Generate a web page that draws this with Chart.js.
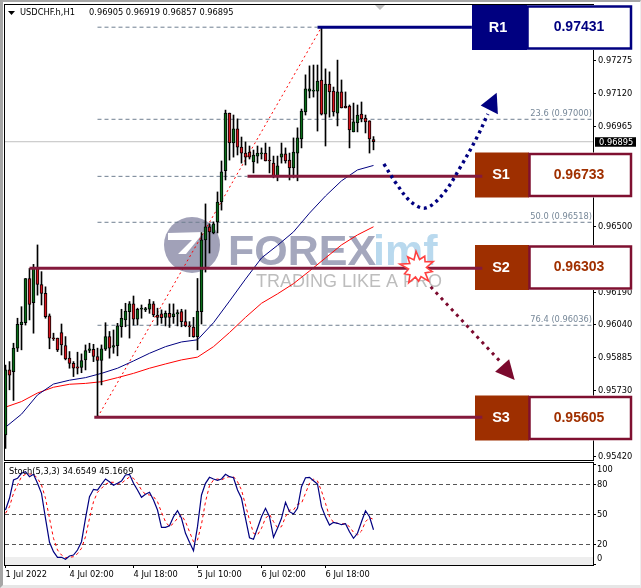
<!DOCTYPE html>
<html>
<head>
<meta charset="utf-8">
<title>USDCHF.h,H1</title>
<script src="https://cdn.jsdelivr.net/npm/chart.js@4"></script>
<style>
  html, body { margin: 0; padding: 0; background: #fff; }
  #wrap { position: relative; width: 641px; height: 588px; overflow: hidden; }
  canvas { position: absolute; left: 0; }
  #frame { position: absolute; left: 0; top: 0; width: 641px; height: 588px; box-sizing: border-box;
    border-top: 2px solid #a6a6a6; border-left: 3px solid #a6a6a6; border-bottom: 3px solid #e6e6e6; border-right: 1px solid #eee; }
</style>
</head>
<body>
<div id="wrap">
  <canvas id="mainChart" width="641" height="462" style="top:0"></canvas>
  <canvas id="stochChart" width="641" height="126" style="top:462px"></canvas>
  <div id="frame"></div>
</div>
<script>
// candles
const opens = [0.95523,0.95827,0.95819,0.95929,0.96039,0.96048,0.96255,0.96142,0.96306,0.96227,0.96185,0.96080,0.95976,0.95976,0.96002,0.95941,0.95882,0.95858,0.95841,0.95839,0.95874,0.95918,0.95924,0.95890,0.95871,0.95924,0.95983,0.95933,0.95941,0.96029,0.96061,0.96100,0.96136,0.96064,0.96111,0.96108,0.96111,0.96136,0.96084,0.96089,0.96073,0.96092,0.96076,0.96089,0.96100,0.96053,0.96033,0.96028,0.95983,0.96100,0.96436,0.96497,0.96468,0.96520,0.96613,0.96759,0.97029,0.96889,0.96955,0.96870,0.96842,0.96847,0.96800,0.96828,0.96838,0.96842,0.96809,0.96795,0.96730,0.96823,0.96838,0.96809,0.96773,0.96842,0.96908,0.97034,0.97132,0.97132,0.97132,0.97184,0.97024,0.97165,0.97132,0.97029,0.97128,0.97062,0.97062,0.96941,0.96983,0.97024,0.97006,0.96993,0.96905];
const closes = [0.95827,0.95803,0.95929,0.96040,0.96051,0.96255,0.96134,0.96306,0.96227,0.96185,0.96076,0.95976,0.95973,0.95921,0.95944,0.95879,0.95858,0.95835,0.95835,0.95871,0.95918,0.95926,0.95890,0.95871,0.95926,0.95983,0.95929,0.95941,0.96033,0.96069,0.96103,0.96136,0.96064,0.96111,0.96116,0.96114,0.96136,0.96084,0.96073,0.96072,0.96092,0.96073,0.96089,0.96095,0.96053,0.96033,0.96028,0.95983,0.96103,0.96436,0.96497,0.96473,0.96511,0.96613,0.96754,0.97029,0.96889,0.96955,0.96870,0.96842,0.96823,0.96823,0.96833,0.96842,0.96842,0.96805,0.96805,0.96730,0.96782,0.96838,0.96805,0.96773,0.96847,0.96913,0.97038,0.97142,0.97142,0.97137,0.97179,0.97024,0.97165,0.97128,0.97034,0.97128,0.97053,0.97053,0.96950,0.96988,0.97020,0.97002,0.96988,0.96908,0.96895];
const highs = [0.95850,0.95866,0.95952,0.96069,0.96123,0.96255,0.96302,0.96321,0.96412,0.96287,0.96216,0.96089,0.95999,0.95976,0.96042,0.95983,0.95913,0.95866,0.95910,0.95902,0.95944,0.95952,0.95947,0.95929,0.95944,0.96048,0.96007,0.96014,0.96045,0.96111,0.96139,0.96147,0.96173,0.96116,0.96131,0.96120,0.96157,0.96147,0.96116,0.96108,0.96103,0.96136,0.96136,0.96108,0.96111,0.96108,0.96053,0.96073,0.96255,0.96470,0.96604,0.96511,0.96520,0.96660,0.96805,0.97043,0.97029,0.97020,0.97002,0.96917,0.96894,0.96875,0.96856,0.96875,0.96866,0.96889,0.96870,0.96828,0.96828,0.96889,0.96866,0.96842,0.96913,0.96960,0.97048,0.97208,0.97250,0.97254,0.97254,0.97431,0.97236,0.97222,0.97151,0.97277,0.97184,0.97128,0.97067,0.97076,0.97067,0.97081,0.97020,0.96993,0.96919];
const lows = [0.95460,0.95734,0.95684,0.95913,0.95921,0.96037,0.96061,0.95999,0.96177,0.96131,0.96069,0.95926,0.95965,0.95913,0.95897,0.95874,0.95835,0.95796,0.95808,0.95814,0.95827,0.95908,0.95866,0.95605,0.95757,0.95918,0.95882,0.95905,0.95893,0.95980,0.96029,0.95976,0.96037,0.96037,0.96069,0.96100,0.96092,0.96076,0.96037,0.96045,0.96033,0.96026,0.96045,0.96033,0.96029,0.96029,0.95983,0.95980,0.95921,0.96042,0.96285,0.96374,0.96464,0.96468,0.96575,0.96716,0.96809,0.96823,0.96833,0.96795,0.96786,0.96814,0.96749,0.96795,0.96814,0.96805,0.96749,0.96726,0.96712,0.96795,0.96795,0.96716,0.96726,0.96712,0.96866,0.97020,0.97100,0.97104,0.96945,0.97020,0.96875,0.97010,0.97015,0.96969,0.97053,0.97053,0.96866,0.96941,0.96941,0.96988,0.96936,0.96842,0.96857];

// moving averages, read every fourth bar
const maBars = [0,4,8,12,16,20,24,28,32,36,40,44,48,52,56,60,64,68,72,76,80,84,88,92];
const maBlue = [0.95559,0.95620,0.95710,0.95761,0.95779,0.95791,0.95811,0.95835,0.95869,0.95905,0.95936,0.95958,0.95968,0.96048,0.96149,0.96252,0.96351,0.96410,0.96473,0.96561,0.96641,0.96712,0.96763,0.96784];
const maRed = [0.95653,0.95679,0.95719,0.95746,0.95760,0.95764,0.95772,0.95791,0.95811,0.95835,0.95855,0.95874,0.95887,0.95936,0.96002,0.96073,0.96139,0.96183,0.96231,0.96290,0.96351,0.96412,0.96459,0.96497];

// stochastic
const stochMain = [54.5,66.2,84.5,86.2,91.2,92.8,87.8,90.2,81.2,71.2,46.2,22.2,12.8,7.2,7.2,5.2,8.5,9.5,14.5,22.8,46.2,67.8,75.2,74.5,80.2,85.5,82.8,79.2,81.2,83.5,89.5,90.2,81.2,74.5,67.2,70.2,72.2,64.5,54.5,37.2,37.2,38.8,47.8,53.8,46.2,31.2,22.2,13.8,37.8,69.5,81.2,87.2,85.5,84.2,85.5,90.2,87.8,86.8,74.5,66.2,46.2,26.8,25.2,36.2,47.8,56.2,47.8,27.2,36.2,46.2,62.2,52.8,50.5,56.2,77.8,86.8,87.2,83.8,80.5,57.8,47.8,39.5,42.2,41.2,39.8,40.8,32.8,26.2,31.2,42.8,53.8,47.8,34.7];
const stochSignal = [51.2,57.8,71.2,79.5,87.8,90.2,90.5,90.2,86.2,79.5,66.2,46.2,26.2,14.5,9.5,6.8,7.2,7.8,10.8,16.2,27.8,46.2,62.8,72.2,76.2,80.2,82.2,82.2,80.5,81.2,84.5,87.5,86.2,81.2,74.5,70.2,69.5,67.8,62.8,52.2,42.8,37.8,41.2,46.2,49.5,42.8,32.8,22.8,24.5,40.2,62.8,78.8,84.5,85.5,84.5,86.8,87.8,87.8,82.8,74.5,59.5,44.5,31.2,29.5,36.2,46.2,50.2,42.8,36.8,37.8,47.8,54.5,54.5,60.2,61.2,71.2,81.2,85.5,83.5,73.5,61.2,47.8,42.2,41.2,40.5,40.8,37.8,32.2,29.5,33.5,42.8,46.8,45.2];

// axis labels
const priceTicks = [0.97430,0.97275,0.97120,0.96965,0.96810,0.96655,0.96500,0.96345,0.96190,0.96040,0.95885,0.95730,0.95575,0.95420];
const stochTicks = [100,80,50,20,0];
const timeBars = [0,16,32,48,64,80];
const timeLabels = ["1 Jul 2022","4 Jul 02:00","4 Jul 18:00","5 Jul 10:00","6 Jul 02:00","6 Jul 18:00"];

// levels and drawn objects
const lastPrice = 0.96895;
const boxNames = ["R1","S1","S2","S3"];
const boxValues = ["0.97431","0.96733","0.96303","0.95605"];
const levelPrices = [0.97431,0.96733,0.96303,0.95605];
const levelStart = [78,60.5,6,22.2];
const levelEnd = [116.6,119.2,119.2,119.2];
const fibPrices = [0.97431,0.97000,0.96733,0.96518,0.96036];
const fibEnd = [78,147,60.5,147,147];
const fibNames = ["","23.6 (0.97000)","","50.0 (0.96518)","76.4 (0.96036)"];
const blueCurveBars = [94.6,97.6,101.4,105.1,109.6,113.9,117.9,120.6];
const blueCurve = [0.96791,0.96702,0.96613,0.96585,0.96655,0.96782,0.96917,0.97025];
const dropBars = [106.3,124.1];
const dropLine = [0.96216,0.95858];

const barCount = 147;
const font = '"DejaVu Sans Condensed", "Liberation Sans", sans-serif';
const boldFont = '"Liberation Sans", Arial, sans-serif';
const smallFont = "9.2px " + font;
const tickFont = { family: font, size: 9.2 };
const xAxisMin = -0.125;

function line(xs, ys, color, width, extra) {
  return Object.assign({
    type: "line",
    data: xs.map((x, i) => ({ x, y: ys[i] })),
    borderColor: color,
    borderWidth: width,
    pointRadius: 0,
    order: 5,
  }, extra || {});
}

// chart.js reserves half a label at the ends of an axis, not wanted here
function fitY(s) {
  s.width = 48;
  s.paddingTop = 0;
  s.paddingBottom = 0;
}

const watermark = {
  draw(ctx) {
    ctx.save();
    ctx.fillStyle = "#a1a1b8";
    ctx.beginPath();
    ctx.arc(192, 245, 28, 0, Math.PI * 2);
    ctx.fill();
    // white cut through the logo
    ctx.fillStyle = "#fff";
    ctx.beginPath();
    ctx.moveTo(168, 233);
    ctx.lineTo(204, 232);
    ctx.lineTo(186, 254);
    ctx.lineTo(178, 254);
    ctx.lineTo(192, 240);
    ctx.lineTo(168, 240);
    ctx.closePath();
    ctx.fill();
    ctx.textBaseline = "alphabetic";
    ctx.textAlign = "left";
    ctx.font = "bold 43px " + boldFont;
    ctx.fillStyle = "#a4a7bd";
    ctx.fillText("FOREX", 228, 265);
    ctx.fillStyle = "#b9d9ee";
    ctx.fillText("imf", 373, 265);
    ctx.font = "18px " + boldFont;
    ctx.fillStyle = "#bdbdbd";
    ctx.fillText("TRADING LIKE A PRO", 256, 287);
    ctx.restore();
  },
};

function drawBox(ctx, i, top) {
  const navy = i === 0;
  const fill = navy ? "#000080" : "#9e2f00";
  const edge = navy ? "#000080" : "#7f1030";
  const left = navy ? 472 : 475;
  const split = navy ? 527 : 529;
  const h = 45;
  ctx.fillStyle = fill;
  ctx.fillRect(left, top, split - left, h);
  ctx.fillStyle = "#fff";
  ctx.fillRect(split, top, 632 - split, h);
  ctx.strokeStyle = edge;
  ctx.lineWidth = 2.5;
  ctx.strokeRect(split + 0.5, top + 1.5, 630.5 - split, h - 3);
  ctx.textAlign = "center";
  ctx.textBaseline = "middle";
  ctx.font = "bold 14.5px " + boldFont;
  ctx.fillStyle = "#fff";
  ctx.fillText(boxNames[i], navy ? 498 : 501, top + 22.5);
  ctx.font = "bold 14px " + boldFont;
  ctx.fillStyle = navy ? "#000080" : "#a03000";
  ctx.fillText(boxValues[i], 579, top + 22.5);
}

const mainOverlay = {
  id: "mainOverlay",
  beforeDatasetsDraw(chart) {
    const { ctx, chartArea: a, scales } = chart;
    watermark.draw(ctx);
    ctx.save();
    ctx.strokeStyle = "#000";
    ctx.lineWidth = 1;
    ctx.strokeRect(a.left - 0.5, a.top - 0.5, a.right - a.left + 1, a.bottom - a.top + 1);

    // drop-down mark near the title and the chart shift mark
    ctx.fillStyle = "#000";
    ctx.beginPath();
    ctx.moveTo(8, 11);
    ctx.lineTo(15, 11);
    ctx.lineTo(11.5, 15);
    ctx.fill();
    ctx.fillStyle = "#c0c0c0";
    ctx.beginPath();
    ctx.moveTo(375, 5);
    ctx.lineTo(385, 5);
    ctx.lineTo(380, 10);
    ctx.fill();

    ctx.font = smallFont;
    ctx.textBaseline = "middle";
    ctx.textAlign = "left";
    ctx.fillStyle = "#000";
    ctx.fillText("USDCHF.h,H1", 20, 12.5);
    ctx.fillText("0.96905 0.96919 0.96857 0.96895", 89, 12.5);

    ctx.textAlign = "right";
    ctx.fillStyle = "#778899";
    fibNames.forEach((name, i) => {
      if (name) ctx.fillText(name, 592, scales.y.getPixelForValue(fibPrices[i]) - 6);
    });

    drawBox(ctx, 0, 5);
    drawBox(ctx, 1, 152.5);
    drawBox(ctx, 2, 245);
    drawBox(ctx, 3, 395.5);

    // last price tag
    const py = scales.y.getPixelForValue(lastPrice);
    ctx.fillStyle = "#000";
    ctx.fillRect(595, py - 4.5, 41, 9.5);
    ctx.fillStyle = "#fff";
    ctx.font = smallFont;
    ctx.textAlign = "left";
    ctx.fillText(lastPrice.toFixed(5), 599, py + 0.5);
    ctx.restore();
  },
  afterDatasetsDraw(chart) {
    const { ctx, scales } = chart;
    const px = (bar, price) => [scales.x.getPixelForValue(bar), scales.y.getPixelForValue(price)];
    const tri = (pts, color) => {
      ctx.fillStyle = color;
      ctx.beginPath();
      pts.forEach((p, i) => {
        const q = px(p[0], p[1]);
        if (i) ctx.lineTo(q[0], q[1]);
        else ctx.moveTo(q[0], q[1]);
      });
      ctx.closePath();
      ctx.fill();
    };
    ctx.save();
    tri([[122.8, 0.97124], [118.8, 0.97065], [123.1, 0.97024]], "#000080");
    tri([[125.9, 0.95877], [122.4, 0.95819], [127.3, 0.95780]], "#7b0a2e");

    // star mark on the S2 line
    const radii = [17, 9, 15, 9, 17, 9, 13, 9, 17, 10, 14, 9, 18, 9, 15, 9, 17, 9, 14, 10];
    const c = px(103, 0.96303);
    ctx.beginPath();
    radii.forEach((r, i) => {
      const t = (i / radii.length) * Math.PI * 2 - 0.4;
      const x = c[0] + Math.cos(t) * r, y = c[1] + Math.sin(t) * r;
      if (i) ctx.lineTo(x, y);
      else ctx.moveTo(x, y);
    });
    ctx.closePath();
    ctx.fillStyle = "#fff";
    ctx.fill();
    ctx.strokeStyle = "#ff4040";
    ctx.lineWidth = 1.6;
    ctx.stroke();
    ctx.restore();
  },
};

const bars = opens.map((_, i) => i);
const bullish = opens.map((o, i) => closes[i] >= o);

const datasets = [
  line([xAxisMin, xAxisMin + barCount], [lastPrice, lastPrice], "#c0c0c0", 1, { order: 9 }),
];
fibPrices.forEach((p, i) => {
  datasets.push(line([23, fibEnd[i]], [p, p], "#6f7f90", 1, { borderDash: [4, 3], order: 8 }));
});
levelPrices.forEach((p, i) => {
  datasets.push(line([levelStart[i], levelEnd[i]], [p, p], i === 0 ? "#000080" : "#841a3c", 3, { order: 1 }));
});
datasets.push(line([23, 79], [0.95605, 0.97431], "#ff0000", 1, { borderDash: [2, 3], order: 7 }));
datasets.push(line(maBars, maBlue, "#000080", 1, { order: 6 }));
datasets.push(line(maBars, maRed, "#ff0000", 1, { order: 6 }));
datasets.push(line(blueCurveBars, blueCurve, "#000080", 3.4, { borderDash: [3, 3.8], tension: 0.35, order: 0 }));
datasets.push(line(dropBars, dropLine, "#7b0a2e", 3, { borderDash: [3, 4.5], order: 0 }));
datasets.push({
  type: "bar",
  data: bars.map((i) => ({ x: i, y: [lows[i], highs[i]] })),
  backgroundColor: "#000",
  barThickness: 1,
  grouped: false,
  order: 4,
});
datasets.push({
  type: "bar",
  data: bars.map((i) => ({ x: i, y: [Math.min(opens[i], closes[i]), Math.max(opens[i], closes[i])] })),
  backgroundColor: bars.map((i) => (bullish[i] ? "#0a6e1a" : "#d8141c")),
  borderColor: "#000",
  borderWidth: 1,
  borderSkipped: false,
  barThickness: 3,
  minBarLength: 1,
  grouped: false,
  order: 3,
});

new Chart(document.getElementById("mainChart"), {
  data: { datasets },
  plugins: [mainOverlay],
  options: {
    responsive: false,
    animation: false,
    devicePixelRatio: 1,
    layout: { padding: { left: 5, top: 5, bottom: 2, right: 0 } },
    plugins: { legend: { display: false }, tooltip: { enabled: false } },
    scales: {
      x: { type: "linear", display: false, offset: false, min: xAxisMin, max: xAxisMin + barCount },
      y: {
        position: "right",
        min: 0.954055,
        max: 0.975349,
        afterFit: fitY,
        afterBuildTicks: (s) => { s.ticks = priceTicks.map((v) => ({ value: v })); },
        grid: { drawOnChartArea: false, tickLength: 3, tickColor: "#000" },
        border: { display: false },
        ticks: { autoSkip: false, color: "#000", font: tickFont, padding: 2, callback: (v) => v.toFixed(5) },
      },
    },
  },
});

const stochOverlay = {
  id: "stochOverlay",
  beforeDatasetsDraw(chart) {
    const { ctx, chartArea: a, scales } = chart;
    ctx.save();
    // grey strip at the foot of the window
    ctx.fillStyle = "#eeeeee";
    const stripTop = scales.y.getPixelForValue(7.5);
    ctx.fillRect(a.left, stripTop, a.right - a.left, a.bottom - stripTop);
    ctx.strokeStyle = "#000";
    ctx.lineWidth = 1;
    ctx.strokeRect(a.left - 0.5, a.top - 0.5, a.right - a.left + 1, a.bottom - a.top + 1);
    ctx.fillStyle = "#000";
    ctx.font = smallFont;
    ctx.textBaseline = "middle";
    ctx.textAlign = "left";
    ctx.fillText("100", 597, scales.y.getPixelForValue(95));
    ctx.fillText("0", 597, scales.y.getPixelForValue(6));
    ctx.restore();
  },
  afterDatasetsDraw(chart) {
    const { ctx } = chart;
    ctx.save();
    ctx.fillStyle = "#000";
    ctx.font = smallFont;
    ctx.textBaseline = "middle";
    ctx.textAlign = "left";
    ctx.fillText("Stoch(5,3,3) 34.6549 45.1669", 9, 9.5);
    ctx.restore();
  },
};

new Chart(document.getElementById("stochChart"), {
  data: {
    datasets: [
      line(bars, stochSignal, "#ff0000", 1, { borderDash: [3, 3], order: 2 }),
      line(bars, stochMain, "#000080", 1.2, { order: 1 }),
    ],
  },
  plugins: [stochOverlay],
  options: {
    responsive: false,
    animation: false,
    devicePixelRatio: 1,
    layout: { padding: { left: 5, top: 1, bottom: 0, right: 0 } },
    plugins: { legend: { display: false }, tooltip: { enabled: false } },
    scales: {
      x: {
        type: "linear",
        offset: false,
        min: xAxisMin,
        max: xAxisMin + barCount,
        afterFit: (s) => { s.height = 23; s.paddingLeft = 0; s.paddingRight = 0; },
        afterBuildTicks: (s) => { s.ticks = timeBars.map((v) => ({ value: v })); },
        grid: { drawOnChartArea: false, tickLength: 3, tickColor: "#000" },
        border: { display: false },
        ticks: {
          autoSkip: false,
          maxRotation: 0,
          align: "start",
          color: "#000",
          font: tickFont,
          padding: 1,
          callback: (v) => timeLabels[timeBars.indexOf(v)] || "",
        },
      },
      y: {
        position: "right",
        min: -0.5,
        max: 101.5,
        afterFit: fitY,
        afterBuildTicks: (s) => { s.ticks = stochTicks.map((v) => ({ value: v })); },
        grid: {
          color: (c) => (c.tick && c.tick.value > 0 && c.tick.value < 100 ? "#555" : "transparent"),
          tickColor: "#000",
          tickLength: 3,
        },
        border: { display: false, dash: [4, 3] },
        ticks: {
          autoSkip: false,
          color: "#000",
          font: tickFont,
          padding: 1,
          callback: (v) => (v > 0 && v < 100 ? String(v) : ""),
        },
      },
    },
  },
});
</script>
</body>
</html>
